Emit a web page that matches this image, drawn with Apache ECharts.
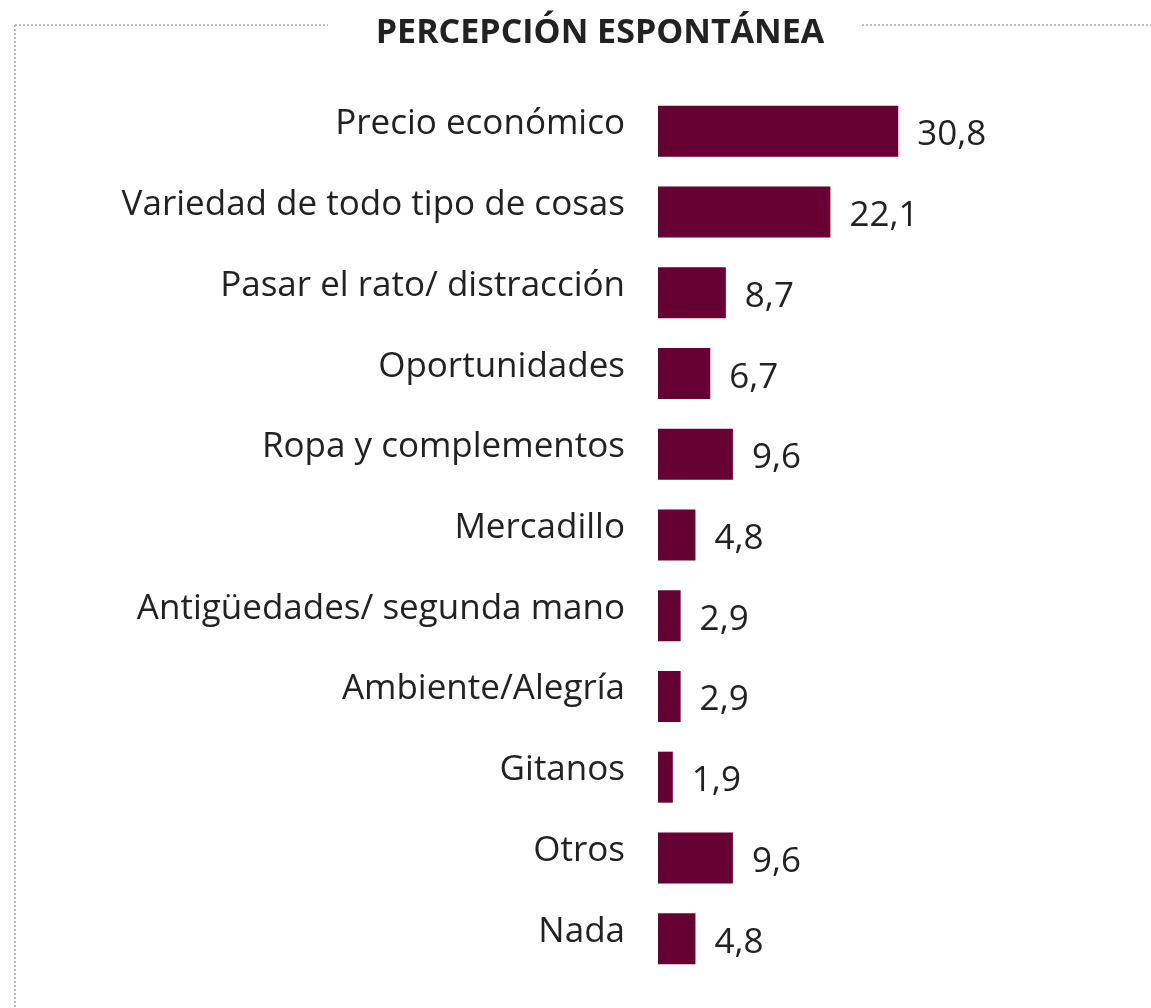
<!DOCTYPE html>
<html><head><meta charset="utf-8">
<script src="https://cdn.jsdelivr.net/npm/echarts@6/dist/echarts.min.js"></script>
<style>html,body{margin:0;padding:0;background:#fff}#c{width:1151px;height:1008px}</style>
</head><body><div id="c"></div>
<script>
const categories = ["Precio económico","Variedad de todo tipo de cosas","Pasar el rato/ distracción","Oportunidades","Ropa y complementos","Mercadillo","Antigüedades/ segunda mano","Ambiente/Alegría","Gitanos","Otros","Nada"];
const values = [30.8,22.1,8.7,6.7,9.6,4.8,2.9,2.9,1.9,9.6,4.8];
const titleText = "PERCEPCIÓN ESPONTÁNEA";

const chart = echarts.init(document.getElementById('c'));
const dot = {stroke:'#bdbdbd', lineWidth:2, lineDash:[2,2]};
chart.setOption({
  animation:false,
  title:{text:titleText,left:595,textAlign:'center',top:11,textStyle:{fontFamily:'Open Sans',fontWeight:'bold',fontSize:34,color:'#222'}},
  graphic:[
    {type:'line',shape:{x1:15,y1:25,x2:328,y2:25},style:dot,silent:true},
    {type:'line',shape:{x1:862,y1:25,x2:1151,y2:25},style:dot,silent:true},
    {type:'line',shape:{x1:15,y1:25,x2:15,y2:1008},style:dot,silent:true}
  ],
  grid:{left:658,right:181,top:91,bottom:29,containLabel:false},
  xAxis:{type:'value',min:0,max:40,show:false},
  yAxis:{type:'category',data:categories,inverse:true,
    axisLine:{show:false},axisTick:{show:false},
    axisLabel:{margin:33,fontFamily:'Open Sans',fontSize:35,color:'#222',verticalAlign:'bottom',lineHeight:14}},
  series:[{type:'bar',data:values,barWidth:51,itemStyle:{color:'#660033'},
    label:{show:true,position:'right',distance:19,offset:[0,4],fontFamily:'Open Sans',fontSize:35,color:'#222',
      formatter:p=>String(p.value).replace('.',',')}}]
});
</script></body></html>
